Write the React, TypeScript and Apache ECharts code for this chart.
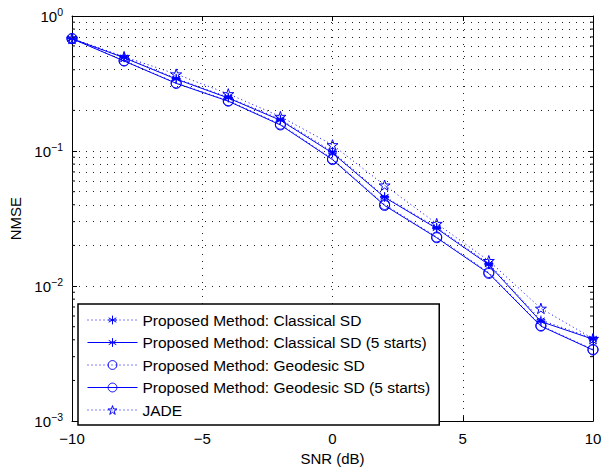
import React, { useEffect, useRef } from "react";
import * as echarts from "echarts";

const snr = [-10, -8, -6, -4, -2, 0, 2, 4, 6, 8, 10];
const classicalSD = [0.68, 0.495, 0.345, 0.25, 0.172, 0.099, 0.046, 0.0272, 0.0147, 0.0056, 0.0041];
const classicalSD5 = [0.679, 0.491, 0.341, 0.247, 0.169, 0.0967, 0.0454, 0.0267, 0.0144, 0.00546, 0.00404];
const geodesicSD = [0.68, 0.467, 0.319, 0.236, 0.158, 0.0875, 0.0402, 0.0231, 0.0126, 0.0051, 0.0034];
const geodesicSD5 = [0.679, 0.464, 0.317, 0.234, 0.156, 0.0864, 0.0395, 0.0228, 0.0124, 0.00505, 0.00336];
const jade = [0.681, 0.5, 0.371, 0.265, 0.18, 0.111, 0.0558, 0.029, 0.0154, 0.00683, 0.00408];

const minorY = [2, 3, 4, 5, 6, 7, 8, 9].flatMap((m) => [m * 1e-3, m * 1e-2, m * 1e-1]);

const BLUE = "#0000ff";
const FONT = "Liberation Sans";

const asterisk = "path://M10 0L10 20M1.3 5L18.7 15M1.3 15L18.7 5M0 10L20 10";
const star =
  "path://M10 0L12.245 6.91L19.511 6.91L13.633 11.18L15.878 18.09L10 13.82L4.122 18.09L6.367 11.18L0.489 6.91L7.755 6.91Z";

function pairs(ys: number[]) {
  return snr.map((x, i) => [x, ys[i]]);
}

export default function App() {
  const ref = useRef<HTMLDivElement>(null);
  useEffect(() => {
    if (!ref.current) return;
    const chart = echarts.init(ref.current, null, { renderer: "svg" });
    const dotted = { color: BLUE, width: 1, type: [1, 3] as any };
    const solid = { color: BLUE, width: 1, type: "solid" as any };
    const markerStyle = { color: "transparent", borderColor: BLUE, borderWidth: 1 };
    const mkSeries = (name: string, ys: number[], symbol: string, size: number, line: any, z: number) => ({
      name,
      type: "line",
      data: pairs(ys),
      symbol,
      symbolSize: size,
      symbolKeepAspect: true,
      showAllSymbol: true,
      lineStyle: line,
      itemStyle: markerStyle,
      emphasis: { disabled: true },
      z,
    });
    const axisLine = { show: true, lineStyle: { color: "#000", width: 1 } };
    const gridLine = { show: true, lineStyle: { color: "#222", width: 1, type: [1, 6] as any } };
    chart.setOption({
      animation: false,
      grid: { left: 72, right: 22, top: 16, bottom: 44, containLabel: false },
      legend: {
        orient: "vertical",
        left: 78,
        top: 304,
        padding: [8, 9, 7, 9],
        itemGap: 6.5,
        itemWidth: 50,
        itemHeight: 11,
        backgroundColor: "#fff",
        borderColor: "#000",
        borderWidth: 1.5,
        borderRadius: 0,
        itemStyle: { color: "transparent", borderColor: BLUE, borderWidth: 1 },
        lineStyle: { width: 1, color: BLUE },
        textStyle: { fontFamily: FONT, fontSize: 15.5, color: "#000" },
        data: [
          "Proposed Method: Classical SD",
          "Proposed Method: Classical SD (5 starts)",
          "Proposed Method: Geodesic SD",
          "Proposed Method: Geodesic SD (5 starts)",
          "JADE",
        ],
      },
      xAxis: [
        {
          type: "value",
          min: -10,
          max: 10,
          interval: 5,
          axisLine: { ...axisLine, onZero: false },
          axisTick: { show: true, inside: true, length: 5, lineStyle: { color: "#000" } },
          axisLabel: {
            fontFamily: FONT,
            fontSize: 15,
            color: "#000",
            margin: 10,
            formatter: (v: number) => (v < 0 ? "\u2212" + Math.abs(v) : String(v)),
          },
          splitLine: gridLine,
          name: "SNR (dB)",
          nameLocation: "middle",
          nameGap: 26,
          nameTextStyle: { fontFamily: FONT, fontSize: 15, color: "#000" },
        },
        {
          type: "value",
          position: "top",
          min: -10,
          max: 10,
          interval: 5,
          axisLine: { ...axisLine, onZero: false },
          axisTick: { show: true, inside: true, length: 5, lineStyle: { color: "#000" } },
          axisLabel: { show: false },
          splitLine: { show: false },
        },
      ],
      yAxis: [
        {
          type: "log",
          logBase: 10,
          min: 0.001,
          max: 1,
          axisLine: { ...axisLine, onZero: false },
          axisTick: { show: true, inside: true, length: 5, lineStyle: { color: "#000" } },
          axisLabel: {
            fontFamily: FONT,
            fontSize: 15,
            color: "#000",
            margin: 9,
            formatter: (v: number) => {
              const e = Math.round(Math.log10(v));
              return "{b|10}{e|" + (e < 0 ? "\u2212" + Math.abs(e) : String(e)) + "}";
            },
            rich: {
              b: { fontFamily: FONT, fontSize: 15, color: "#000" },
              e: { fontFamily: FONT, fontSize: 10.5, color: "#000", padding: [0, 0, 9, 0] },
            },
          },
          splitLine: gridLine,
          name: "NMSE",
          nameLocation: "middle",
          nameGap: 40,
          nameTextStyle: { fontFamily: FONT, fontSize: 15, color: "#000" },
        },
        {
          type: "log",
          logBase: 10,
          min: 0.001,
          max: 1,
          position: "right",
          axisLine: { ...axisLine, onZero: false },
          axisTick: { show: true, inside: true, length: 5, lineStyle: { color: "#000" } },
          axisLabel: { show: false },
          splitLine: { show: false },
        },
      ],
      series: [
        {
          type: "custom",
          name: "minor",
          silent: true,
          z: 1,
          data: minorY.map((v) => [-10, v]),
          renderItem: (params: any, api: any) => {
            const v = api.value(1);
            const l = api.coord([-10, v]);
            const r = api.coord([10, v]);
            const st = { stroke: "#000", lineWidth: 1 };
            return {
              type: "group",
              children: [
                { type: "line", shape: { x1: l[0], y1: l[1], x2: l[0] + 3, y2: l[1] }, style: st },
                { type: "line", shape: { x1: r[0], y1: r[1], x2: r[0] - 3, y2: r[1] }, style: st },
              ],
            };
          },
          markLine: {
            silent: true,
            symbol: "none",
            label: { show: false },
            lineStyle: { color: "#222", width: 1, type: [1, 6] },
            data: minorY.map((v) => ({ yAxis: v })),
          },
        },
        mkSeries("Proposed Method: Classical SD", classicalSD, asterisk, 9, dotted, 3),
        mkSeries("Proposed Method: Classical SD (5 starts)", classicalSD5, asterisk, 9, solid, 4),
        mkSeries("Proposed Method: Geodesic SD", geodesicSD, "circle", 10, dotted, 3),
        mkSeries("Proposed Method: Geodesic SD (5 starts)", geodesicSD5, "circle", 10, solid, 4),
        mkSeries("JADE", jade, star, 11, dotted, 3),
      ],
    });
    return () => chart.dispose();
  }, []);
  return <div ref={ref} style={{ width: 615, height: 471, position: "absolute", left: 0, top: 0 }} />;
}
